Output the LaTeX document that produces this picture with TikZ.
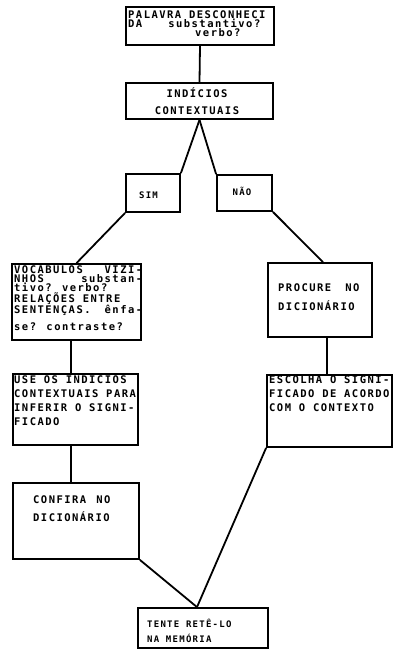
\documentclass[tikz,border=0pt]{standalone}
\usepackage{fontspec}
\newfontfamily\typew[LetterSpace=14]{DejaVu Sans Mono Bold}
\usetikzlibrary{positioning}

\tikzset{
  flowbox/.style={draw, line width=1.8pt, inner sep=0pt},
  boxtext/.style={font=\typew\fontsize{10.5}{#1}\selectfont, align=left, inner sep=0pt,
    execute at begin node={\spaceskip=0pt\xspaceskip=0pt}},
  boxtext/.default=9,
  smalltext/.style={boxtext, font=\typew\fontsize{9}{#1}\selectfont},
  smalltext/.default=15,
  link/.style={line width=1.8pt}
}

\begin{document}
\begin{tikzpicture}[x=1pt, y=-1pt]
  \useasboundingbox (0,0) rectangle (394,650);

  % Boxes
  \node[flowbox, minimum width=148pt, minimum height=38pt] (palavra)  at (200,26)    {};
  \node[flowbox, minimum width=147pt, minimum height=36pt] (indicios) at (199.5,101) {};
  \node[flowbox, minimum width=54pt,  minimum height=38pt] (sim)      at (153,193)   {};
  \node[flowbox, minimum width=55pt,  minimum height=36pt] (nao)      at (244.5,193) {};
  \node[flowbox, minimum width=129pt, minimum height=76pt] (vocab)    at (76.5,302)  {};
  \node[flowbox, minimum width=104pt, minimum height=74pt] (procure)  at (320,300)   {};
  \node[flowbox, minimum width=125pt, minimum height=71pt] (use)      at (75.5,409.5) {};
  \node[flowbox, minimum width=125pt, minimum height=72pt] (escolha)  at (329.5,411) {};
  \node[flowbox, minimum width=126pt, minimum height=76pt] (confira)  at (76,521)    {};
  \node[flowbox, minimum width=130pt, minimum height=40pt] (tente)    at (203,628)   {};

  % Texts
  \node[boxtext, anchor=base west, text width=150pt] (palavraT) at (128,18.5)
    {PALAVRA DESCONHECI\\DA\hspace*{26pt}substantivo?\\\hspace*{67pt}verbo?};
  \node[boxtext=17, anchor=base, align=center, text width=120pt] (indiciosT) at (197,98)
    {INDÍCIOS\\CONTEXTUAIS};
  \node[smalltext, anchor=base] (simT) at (148.5,198) {SIM};
  \node[smalltext, anchor=base] (naoT) at (242,195) {NÃO};
  \node[boxtext=9.3, anchor=base west, text width=128pt] (vocabT) at (14,273)
    {VOCÁBULOS\hfill VIZI-\\NHOS\hfill substan-\\tivo? verbo?\\RELAÇÕES ENTRE\\SENTENÇAS.\hfill ênfa-\\[5.5pt]se? contraste?};
  \node[boxtext=19, anchor=base west, text width=110pt] (procureT) at (278,291)
    {PROCURE\hspace{14pt}NO\\DICIONÁRIO};
  \node[boxtext=14.3, anchor=base west, text width=150pt] (useT) at (14,383)
    {USE OS INDÍCIOS\\CONTEXTUAIS PARA\\INFERIR O SIGNI-\\FICADO};
  \node[boxtext=14, anchor=base west, text width=150pt] (escolhaT) at (269,383)
    {ESCOLHA O SIGNI-\\FICADO DE ACORDO\\COM O CONTEXTO};
  \node[boxtext=18, anchor=base west, text width=110pt] (confiraT) at (33,503)
    {CONFIRA\hspace{10pt}NO\\DICIONÁRIO};
  \node[smalltext, anchor=base west, text width=118pt] (tenteT) at (147,627)
    {TENTE RETÊ-LO\\NA MEMÓRIA};

  % Connectors
  \draw[link] (palavra.south) -- (indicios.north);
  \draw[link] (indicios.south) -- (sim.north east);
  \draw[link] (indicios.south) -- (nao.north west);
  \draw[link] (sim.south west) -- (vocab.north);
  \draw[link] (nao.south east) -- ([xshift=3pt]procure.north);
  \draw[link] ([xshift=-5.5pt]vocab.south) -- ([xshift=-5.5pt]vocab.south |- use.north);
  \draw[link] ([xshift=-4.5pt]use.south) -- ([xshift=-4.5pt]use.south |- confira.north);
  \draw[link] ([xshift=7pt]procure.south) -- ([xshift=7pt]procure.south |- escolha.north);
  \draw[link] (escolha.south west) -- ([xshift=-6pt]tente.north);
  \draw[link] (confira.south east) -- ([xshift=-6pt]tente.north);
\end{tikzpicture}
\end{document}
